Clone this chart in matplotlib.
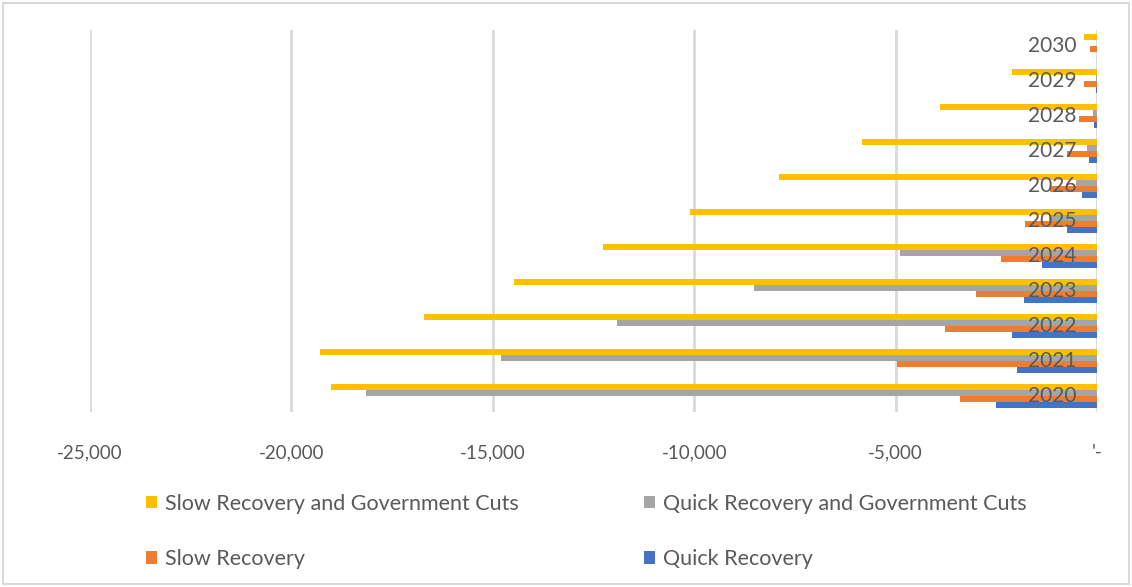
import matplotlib
matplotlib.use('Agg')
import matplotlib.pyplot as plt
import numpy as np
from matplotlib.patches import Rectangle
from matplotlib.ticker import FixedLocator

plt.rcParams['font.family'] = ['Lato', 'DejaVu Sans']

years = ['2020', '2021', '2022', '2023', '2024', '2025', '2026', '2027', '2028', '2029', '2030']
slow_gov = [-19010, -19300, -16700, -14470, -12260, -10100, -7890, -5830, -3900, -2110, -320]
quick_gov = [-18140, -14790, -11910, -8510, -4890, -1200, -520, -250, -100, -20, 0]
slow = [-3400, -4960, -3770, -3000, -2380, -1790, -1170, -750, -450, -320, -170]
quick = [-2510, -1990, -2110, -1810, -1370, -740, -370, -200, -80, -25, -10]

x_ticks = [-25000, -20000, -15000, -10000, -5000, 0]
x_tick_labels = ['-25,000', '-20,000', '-15,000', '-10,000', '-5,000', "'-"]

series = [
    ('Slow Recovery and Government Cuts', slow_gov, '#FFC000'),
    ('Quick Recovery and Government Cuts', quick_gov, '#A5A5A5'),
    ('Slow Recovery', slow, '#ED7D31'),
    ('Quick Recovery', quick, '#4472C4'),
]

text_col = '#595959'
grid_col = '#D9D9D9'

fig = plt.figure(figsize=(11.32, 5.87), dpi=100)
ax = fig.add_axes([90 / 1132, 1 - 412 / 587, (1097 - 90) / 1132, (412 - 30) / 587])

y = np.arange(len(years))
h = 0.17
bars = {}
for i, (name, vals, col) in enumerate(series):
    offset = (1.5 - i) * h
    # zorder 1 keeps the bars under the year labels (axis zorder 1.5)
    bars[name] = ax.barh(y + offset, vals, height=h, color=col, label=name, zorder=1)

ax.set_xlim(-25000, 0)
ax.set_ylim(-0.45, len(years) - 0.55)
ax.xaxis.set_major_locator(FixedLocator(x_ticks))
ax.set_xticklabels(x_tick_labels)
for xt in x_ticks:
    ax.axvline(xt, color=grid_col, lw=2, zorder=0.5)
for s in ax.spines.values():
    s.set_visible(False)
ax.tick_params(axis='x', length=0, pad=23, labelsize=13.5, labelcolor=text_col)

ax.yaxis.tick_right()
ax.set_yticks(y)
ax.set_yticklabels(years)
ax.tick_params(axis='y', length=0, pad=-15, labelsize=15, labelcolor=text_col)
for lab in ax.get_yticklabels():
    lab.set_horizontalalignment('right')
    lab.set_verticalalignment('center')

handles = [bars[series[0][0]], bars[series[2][0]], bars[series[1][0]], bars[series[3][0]]]
labels = [series[0][0], series[2][0], series[1][0], series[3][0]]
fig.legend(handles, labels, ncol=2, loc='upper left', bbox_to_anchor=(137 / 1132, 1 - 485 / 587),
           frameon=False, fontsize=15.5, labelcolor=text_col, handlelength=0.55, handleheight=0.55,
           handletextpad=0.35, labelspacing=1.65, columnspacing=5.8, borderaxespad=0)

fig.patches.append(Rectangle((3 / 1132, 3 / 587), 1 - 6 / 1132, 1 - 6 / 587, transform=fig.transFigure,
                             fill=False, edgecolor=grid_col, lw=1.5))

fig.savefig('out.png', dpi=100)
